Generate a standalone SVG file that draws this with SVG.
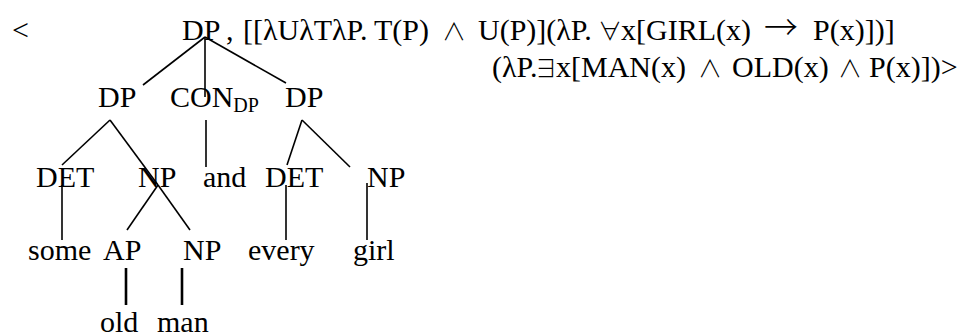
<svg xmlns="http://www.w3.org/2000/svg" width="971" height="336" viewBox="0 0 971 336">
  <style>
    text { font-family: "Liberation Serif", "Times New Roman", serif; font-size: 30px; fill: #000; }
    .sub { font-size: 20px; }
    .sym { font-family: "Noto Sans CJK JP", "DejaVu Serif", serif; font-size: 24px; font-weight: 300; text-anchor: middle; }
    .arrow { font-family: "Noto Sans CJK JP", "DejaVu Serif", serif; font-size: 34px; font-weight: 300; text-anchor: middle; }
    .edge { stroke: #000; stroke-width: 1.6; fill: none; stroke-linecap: butt; }
    .edge.bold { stroke-width: 2.6; }
  </style>
  <rect width="971" height="336" fill="#fff"/>

  <!-- semantic pair: category and its lambda term -->
  <g id="formula">
    <text x="12" y="40">&lt;</text>
    <text y="40"><tspan x="182">DP</tspan><tspan x="226">,</tspan><tspan x="243">[[λUλTλP.</tspan><tspan x="374">T(P)</tspan><tspan x="478">U(P)](λP.</tspan><tspan x="621">x[GIRL(x)</tspan><tspan x="813">P(x)])]</tspan></text>
    <text class="sym" y="40"><tspan x="454">∧</tspan><tspan x="610">∀</tspan></text>
    <text class="arrow" x="781" y="40">→</text>
    <text y="77"><tspan x="492">(λP.</tspan><tspan x="556">x[MAN(x)</tspan><tspan x="732">OLD(x)</tspan><tspan x="869">P(x)])&gt;</tspan></text>
    <text class="sym" y="77"><tspan x="546">∃</tspan><tspan x="710">∧</tspan><tspan x="850">∧</tspan></text>
  </g>

  <g id="dp-left"><text x="98" y="107">DP</text></g>
  <g id="con-dp"><text x="170" y="107">CON<tspan class="sub" dy="5">DP</tspan></text></g>
  <g id="dp-right"><text x="285" y="107">DP</text></g>

  <g id="det-left"><text x="36" y="187">DET</text></g>
  <g id="np-left"><text x="138" y="187">NP</text></g>
  <g id="and"><text x="203" y="187">and</text></g>
  <g id="det-right"><text x="265" y="187">DET</text></g>
  <g id="np-right"><text x="367" y="187">NP</text></g>

  <g id="some"><text x="28" y="260">some</text></g>
  <g id="ap"><text x="103" y="260">AP</text></g>
  <g id="np-inner"><text x="183" y="260">NP</text></g>
  <g id="every"><text x="248" y="260">every</text></g>
  <g id="girl"><text x="353" y="260">girl</text></g>

  <g id="old"><text x="100" y="332">old</text></g>
  <g id="man"><text x="157" y="332">man</text></g>

  <g id="connectors">
    <line class="edge" x1="205" y1="37" x2="143" y2="85"/>
    <line class="edge" x1="205" y1="37" x2="205" y2="97"/>
    <line class="edge" x1="205" y1="37" x2="286" y2="83"/>

    <line class="edge" x1="110" y1="120" x2="62" y2="165"/>
    <line class="edge" x1="110" y1="120" x2="158" y2="185"/>
    <line class="edge" x1="206" y1="120" x2="206" y2="167"/>
    <line class="edge" x1="302" y1="120" x2="287" y2="165"/>
    <line class="edge" x1="302" y1="120" x2="350" y2="167"/>

    <line class="edge" x1="62" y1="185" x2="62" y2="240"/>
    <line class="edge" x1="158" y1="185" x2="127" y2="230"/>
    <line class="edge" x1="158" y1="185" x2="190" y2="230"/>
    <line class="edge" x1="286" y1="185" x2="286" y2="240"/>
    <line class="edge" x1="367" y1="183" x2="367" y2="240"/>

    <line class="edge bold" x1="126" y1="268" x2="126" y2="305"/>
    <line class="edge bold" x1="182" y1="268" x2="182" y2="305"/>
  </g>
</svg>
